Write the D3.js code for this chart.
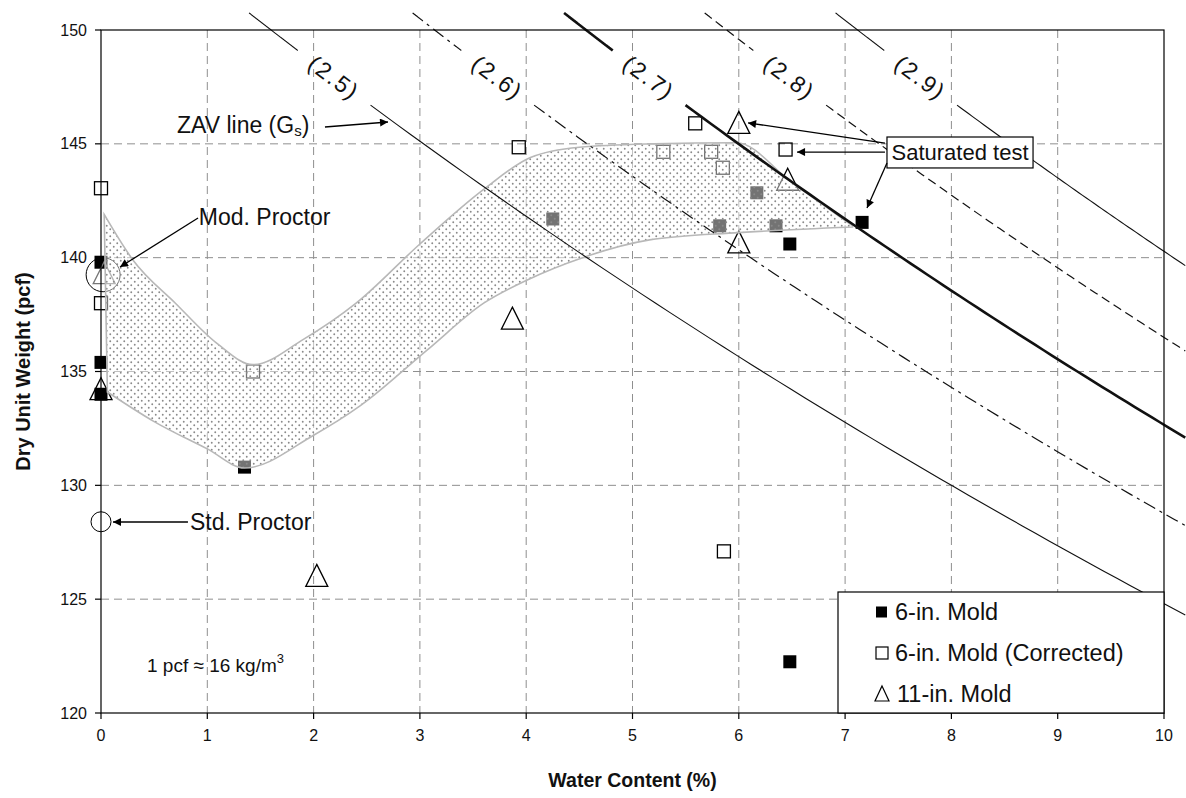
<!DOCTYPE html>
<html><head><meta charset="utf-8">
<script src="https://cdn.jsdelivr.net/npm/d3@7"></script>
<style>body{margin:0;background:#fff}svg{display:block;font-family:Arial,"Liberation Sans",sans-serif}</style>
</head><body><svg id="c" width="1186" height="798"></svg>
<script>
// ---------------- data ----------------
const xTicks = [0,1,2,3,4,5,6,7,8,9,10];
const yTicks = [120,125,130,135,140,145,150];

// 6-in. Mold (filled squares)
const mold6W = [0, 0, 0, 1.35, 4.25, 5.82, 6.17, 6.35, 6.48, 7.16, 6.48];
const mold6G = [139.8, 135.4, 134.0, 130.8, 141.7, 141.4, 142.85, 141.4, 140.6, 141.55, 122.25];
// 6-in. Mold (Corrected) (open squares)
const corrW = [0, 0, 1.43, 3.93, 5.59, 5.29, 5.74, 5.85, 6.44, 5.86];
const corrG = [143.05, 138.0, 135.0, 144.85, 145.9, 144.65, 144.65, 143.95, 144.75, 127.1];
// 11-in. Mold (open triangles)
const mold11W = [0, 0.03, 2.03, 3.87, 6.0, 6.46, 6.0];
const mold11G = [134.2, 139.3, 126.0, 137.3, 145.9, 143.4, 140.65];

// Zero-air-void lines
const gsValues = [2.5, 2.6, 2.7, 2.8, 2.9];
const gsLabels = ["(2.5)", "(2.6)", "(2.7)", "(2.8)", "(2.9)"];
const gammaW = 62.4;

// shaded band
const bandUpperW = [0.03,0.3,0.7,1.1,1.43,1.9,2.4,3.0,3.6,4.04,4.5,5.2,5.98,6.5,7.07];
const bandUpperG = [141.9,139.9,138.0,136.2,135.3,136.4,138.0,140.6,143.0,144.4,144.85,145.0,145.05,143.3,141.4];
const bandLowerW = [0.06,0.5,1.0,1.35,2.0,2.44,3.07,3.6,4.0,4.53,5.16,6.0,7.07];
const bandLowerG = [134.1,132.8,131.6,130.76,132.2,133.5,135.95,138.0,139.0,140.0,140.78,141.1,141.35];

// proctor circles
const proctorW = [0.02, 0];
const proctorG = [139.25, 128.4];

const legendLabels = ["6-in. Mold", "6-in. Mold (Corrected)", "11-in. Mold"];

// ---------------- layout ----------------
const svg = d3.select("#c");
const L = 101, R = 1164, T = 30, B = 713;
const x = d3.scaleLinear().domain([0,10]).range([L,R]);
const y = d3.scaleLinear().domain([120,150]).range([B,T]);

const defs = svg.append("defs");
const pat = defs.append("pattern").attr("id","dots").attr("patternUnits","userSpaceOnUse")
  .attr("width",7).attr("height",7);
pat.append("circle").attr("cx",1.75).attr("cy",1.75).attr("r",0.95).attr("fill","#8a8a8a");
pat.append("circle").attr("cx",5.25).attr("cy",5.25).attr("r",0.95).attr("fill","#8a8a8a");
defs.append("marker").attr("id","arr").attr("viewBox","0 0 10 10").attr("refX",10).attr("refY",5)
  .attr("markerWidth",11).attr("markerHeight",8).attr("markerUnits","userSpaceOnUse").attr("orient","auto")
  .append("path").attr("d","M0,0 L10,5 L0,10 Z").attr("fill","#000");

// gridlines
const grid = svg.append("g").attr("stroke","#8f8f8f").attr("stroke-width",1).attr("stroke-dasharray","8,5");
xTicks.filter(t=>t>0 && t<10).forEach(t=>grid.append("line").attr("x1",x(t)).attr("x2",x(t)).attr("y1",T).attr("y2",B));
yTicks.filter(t=>t>120 && t<150).forEach(t=>grid.append("line").attr("x1",L).attr("x2",R).attr("y1",y(t)).attr("y2",y(t)));

// points
const gp = svg.append("g");
const sq = 13;
mold6W.forEach((w,i)=>gp.append("rect").attr("x",x(w)-sq/2).attr("y",y(mold6G[i])-sq/2).attr("width",sq).attr("height",sq).attr("fill","#000"));
corrW.forEach((w,i)=>gp.append("rect").attr("x",x(w)-sq/2).attr("y",y(corrG[i])-sq/2).attr("width",sq).attr("height",sq).attr("fill","none").attr("stroke","#000").attr("stroke-width",1.3));
const triPath = "M0,-12 L11,10 L-11,10 Z";
mold11W.forEach((w,i)=>gp.append("path").attr("d",triPath).attr("transform",`translate(${x(w)},${y(mold11G[i])})`)
  .attr("fill","none").attr("stroke", i===1 ? "#777" : "#000").attr("stroke-width",1.3));
proctorW.forEach((w,i)=>gp.append("circle").attr("cx",x(w)).attr("cy",y(proctorG[i])).attr("r", i===0?17:10)
  .attr("fill","none").attr("stroke","#000").attr("stroke-width",1));

// band
const upper = bandUpperW.map((w,i)=>[x(w),y(bandUpperG[i])]);
const lower = bandLowerW.map((w,i)=>[x(w),y(bandLowerG[i])]).reverse();
const mono = d3.line().curve(d3.curveMonotoneX);
const up = mono(upper), lo = mono(lower);
const bandPath = up + "L" + lo.slice(1) + "Z";
svg.append("path").attr("d",bandPath).attr("fill","#fff").attr("fill-opacity",0.45);
svg.append("path").attr("d",bandPath).attr("fill","url(#dots)").attr("stroke","#b8b8b8").attr("stroke-width",1.6);

// ZAV lines
const zav = (gs,w)=> gs*gammaW/(1+gs*w/100);
const wAt = (gs,g)=> (gs*gammaW/g - 1)/gs*100;
const lineGen = d3.line().x(d=>x(d[0])).y(d=>y(d[1]));
const styles = [
  {w:1.1, dash:null},
  {w:1.2, dash:"13,5,3,5"},
  {w:2.6, dash:null},
  {w:1.2, dash:"9,5"},
  {w:1.1, dash:null}
];
const zg = svg.append("g");
gsValues.forEach((gs,k)=>{
  const w0 = wAt(gs,150.75), wg1 = wAt(gs,149.1), wg2 = wAt(gs,146.7), w1 = 10.2;
  const seg = (a,b)=>{const n=60;return d3.range(n+1).map(j=>{const w=a+(b-a)*j/n;return [w,zav(gs,w)];});};
  [seg(w0,wg1), seg(wg2,w1)].forEach(s=>{
    zg.append("path").attr("d",lineGen(s)).attr("fill","none").attr("stroke","#111")
      .attr("stroke-width",styles[k].w).attr("stroke-dasharray",styles[k].dash);
  });
  const gm = 147.9, wm = wAt(gs,gm);
  const p1=[x(wm-0.05),y(zav(gs,wm-0.05))], p2=[x(wm+0.05),y(zav(gs,wm+0.05))];
  const ang = Math.atan2(p2[1]-p1[1],p2[0]-p1[0])*180/Math.PI;
  zg.append("text").attr("transform",`translate(${x(wm)},${y(gm)}) rotate(${ang})`)
    .attr("text-anchor","middle").attr("dominant-baseline","central")
    .attr("font-size",23).attr("letter-spacing",2).attr("fill","#111").text(gsLabels[k]);
});

// axes frame
const ax = svg.append("g").attr("stroke","#000").attr("stroke-width",1.2);
ax.append("rect").attr("x",L).attr("y",T).attr("width",R-L).attr("height",B-T).attr("fill","none");
yTicks.forEach(t=>ax.append("line").attr("x1",L-6).attr("x2",L).attr("y1",y(t)).attr("y2",y(t)));
xTicks.forEach(t=>ax.append("line").attr("x1",x(t)).attr("x2",x(t)).attr("y1",B).attr("y2",B+6));
svg.append("g").selectAll("text").data(yTicks).join("text").attr("x",L-14).attr("y",d=>y(d))
  .attr("text-anchor","end").attr("dominant-baseline","central").attr("font-size",16).attr("fill","#111").text(d=>d);
svg.append("g").selectAll("text").data(xTicks).join("text").attr("x",d=>x(d)).attr("y",B+22)
  .attr("text-anchor","middle").attr("dominant-baseline","central").attr("font-size",16).attr("fill","#111").text(d=>d);
svg.append("text").attr("x",(L+R)/2).attr("y",780).attr("text-anchor","middle").attr("dominant-baseline","central")
  .attr("font-size",19.5).attr("font-weight","bold").attr("fill","#111").text("Water Content (%)");
svg.append("text").attr("transform",`translate(23,${(T+B)/2}) rotate(-90)`).attr("text-anchor","middle")
  .attr("dominant-baseline","central").attr("font-size",20).attr("font-weight","bold").attr("fill","#111").text("Dry Unit Weight (pcf)");

// annotations
const an = svg.append("g").attr("fill","#111");
const arrow = (w1,g1,w2,g2)=>svg.append("line").attr("x1",x(w1)).attr("y1",y(g1)).attr("x2",x(w2)).attr("y2",y(g2))
  .attr("stroke","#000").attr("stroke-width",1.3).attr("marker-end","url(#arr)");
const zt = an.append("text").attr("x",x(0.715)).attr("y",y(145.83)).attr("dominant-baseline","central").attr("font-size",23);
zt.append("tspan").text("ZAV line (G");
zt.append("tspan").attr("font-size",15).attr("dy",5).text("s");
zt.append("tspan").attr("dy",-5).text(")");
arrow(2.107,145.74,2.70,145.96);
an.append("text").attr("x",x(0.92)).attr("y",y(141.79)).attr("dominant-baseline","central").attr("font-size",23).text("Mod. Proctor");
arrow(0.913,141.74,0.179,139.59);
an.append("text").attr("x",x(0.837)).attr("y",y(128.39)).attr("dominant-baseline","central").attr("font-size",23).text("Std. Proctor");
arrow(0.818,128.39,0.113,128.39);
const pt = an.append("text").attr("x",x(0.433)).attr("y",y(122.1)).attr("dominant-baseline","central").attr("font-size",19);
pt.append("tspan").text("1 pcf ≈ 16 kg/m");
pt.append("tspan").attr("font-size",13).attr("dy",-7).text("3");

// saturated test box
svg.append("rect").attr("x",x(7.394)).attr("y",y(145.3)).attr("width",x(8.768)-x(7.394)).attr("height",y(143.94)-y(145.3))
  .attr("fill","#fff").attr("stroke","#000").attr("stroke-width",1.2);
svg.append("text").attr("x",(x(7.394)+x(8.768))/2).attr("y",(y(145.3)+y(143.94))/2).attr("text-anchor","middle")
  .attr("dominant-baseline","central").attr("font-size",22).attr("fill","#111").text("Saturated test");
arrow(7.375,145.03,6.087,145.92);
arrow(7.375,144.64,6.548,144.64);
arrow(7.394,144.16,7.206,142.18);

// legend
const lg = svg.append("g");
lg.append("rect").attr("x",838).attr("y",592).attr("width",R-838).attr("height",B-592).attr("fill","#fff").attr("stroke","#000").attr("stroke-width",1.2);
const rows=[612,653,694];
lg.append("rect").attr("x",876).attr("y",rows[0]-5.5).attr("width",11).attr("height",11).attr("fill","#000");
lg.append("rect").attr("x",876).attr("y",rows[1]-6).attr("width",12).attr("height",12).attr("fill","none").attr("stroke","#000").attr("stroke-width",1.2);
lg.append("path").attr("d","M0,-8 L7,7 L-7,7 Z").attr("transform",`translate(882,${rows[2]})`).attr("fill","none").attr("stroke","#000").attr("stroke-width",1.2);
legendLabels.forEach((t,i)=>lg.append("text").attr("x",i===2?897:895).attr("y",rows[i]).attr("dominant-baseline","central")
  .attr("font-size",23.5).attr("fill","#111").text(t));
</script></body></html>
